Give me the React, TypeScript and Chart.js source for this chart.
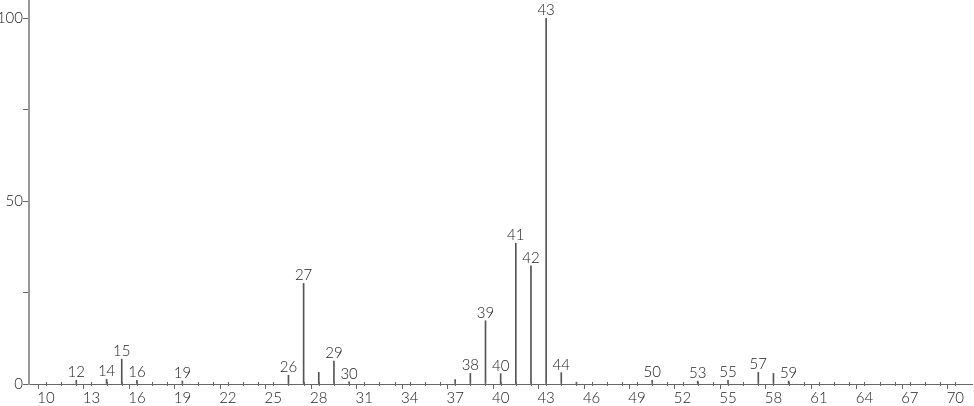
import React, { useEffect, useRef } from "react";
import { Chart, registerables } from "chart.js";

Chart.register(...registerables);

const mzValues = [12, 14, 15, 16, 19, 26, 27, 28, 29, 30, 37, 38, 39, 40, 41, 42, 43, 44, 45, 50, 53, 55, 57, 58, 59];
const intensities = [1.0, 1.3, 6.8, 1.0, 0.8, 2.4, 27.5, 3.2, 6.3, 0.6, 1.2, 2.9, 17.3, 2.8, 38.5, 32.3, 100, 3.1, 0.5, 1.0, 0.8, 1.0, 3.2, 2.9, 0.8];
const labeledPeaks = [12, 14, 15, 16, 19, 26, 27, 29, 30, 38, 39, 40, 41, 42, 43, 44, 50, 53, 55, 57, 59];
const xTickValues = Array.from({ length: 61 }, (_, i) => 10 + i);
const xLabeled = [10, 13, 16, 19, 22, 25, 28, 31, 34, 37, 40, 43, 46, 49, 52, 55, 58, 61, 64, 67, 70];
const yTickValues = [0, 25, 50, 75, 100];
const yLabeled = [0, 50, 100];

const FONT = "Lato, 'DejaVu Sans', sans-serif";

const peakLabelPlugin = {
  id: "peakLabels",
  afterDatasetsDraw(chart: any) {
    const ctx = chart.ctx;
    const xs = chart.scales.x;
    const ys = chart.scales.y;
    ctx.save();
    ctx.strokeStyle = "#666";
    ctx.lineWidth = 1;
    const y0 = ys.getPixelForValue(0);
    xTickValues.forEach((v) => {
      const px = Math.round(xs.getPixelForValue(v)) + 0.5;
      ctx.beginPath();
      ctx.moveTo(px, y0 - 2);
      ctx.lineTo(px, y0 + 2);
      ctx.stroke();
    });
    ctx.fillStyle = "#222";
    ctx.font = `300 15px ${FONT}`;
    ctx.textAlign = "center";
    ctx.textBaseline = "alphabetic";
    labeledPeaks.forEach((m) => {
      const i = mzValues.indexOf(m);
      if (i < 0) return;
      const px = xs.getPixelForValue(m);
      const py = ys.getPixelForValue(intensities[i]);
      ctx.fillText(String(m), px, py - 3);
    });
    ctx.textAlign = "right";
    ctx.textBaseline = "middle";
    yLabeled.forEach((v) => {
      ctx.fillText(String(v), chart.chartArea.left - 6, ys.getPixelForValue(v));
    });
    ctx.restore();
  },
};

export default function App() {
  const ref = useRef<HTMLCanvasElement | null>(null);
  useEffect(() => {
    document.body.style.margin = "0";
    const canvas = ref.current;
    if (!canvas) return;
    const chart = new Chart(canvas, {
      type: "bar",
      data: {
        datasets: [
          {
            data: mzValues.map((m, i) => ({ x: m, y: intensities[i] })),
            backgroundColor: "#555555",
            borderWidth: 0,
            barThickness: 1,
          },
        ],
      },
      options: {
        animation: false,
        responsive: false,
        layout: { padding: { left: 0, right: 2, top: 0, bottom: 0 } },
        plugins: { legend: { display: false }, tooltip: { enabled: false } },
        scales: {
          x: {
            type: "linear",
            min: 8.88,
            max: 71.1,
            offset: false,
            afterBuildTicks: (scale: any) => {
              scale.ticks = xTickValues.map((v) => ({ value: v }));
            },
            afterFit: (scale: any) => {
              scale.height = 22;
            },
            grid: {
              drawOnChartArea: false,
              drawTicks: true,
              tickLength: 5,
              color: (c: any) => (c.tick && xLabeled.includes(c.tick.value) ? "#666" : "rgba(0,0,0,0)"),
            },
            border: { color: "#666", width: 1 },
            ticks: {
              autoSkip: false,
              maxRotation: 0,
              padding: 0,
              color: "#222",
              font: { family: FONT, size: 15, weight: "300" },
              callback: (v: any) => (xLabeled.includes(Number(v)) ? String(v) : ""),
            },
          },
          y: {
            min: 0,
            max: 105,
            afterBuildTicks: (scale: any) => {
              scale.ticks = yTickValues.map((v) => ({ value: v }));
            },
            afterFit: (scale: any) => {
              scale.width = 29;
            },
            grid: {
              drawOnChartArea: false,
              drawTicks: true,
              tickLength: 6,
              color: "#666",
            },
            border: { color: "#999", width: 2 },
            ticks: { display: false },
          },
        },
      },
      plugins: [peakLabelPlugin],
    });
    return () => chart.destroy();
  }, []);
  return (
    <div style={{ width: 974, height: 406 }}>
      <canvas ref={ref} width={974} height={406} style={{ display: "block" }} />
    </div>
  );
}
